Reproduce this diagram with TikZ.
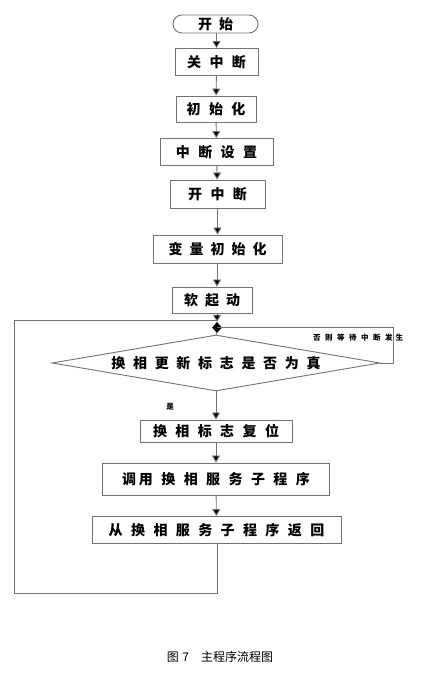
\documentclass[tikz,border=0pt]{standalone}
\usepackage{fontspec}
\newfontfamily\cjk{Noto Sans CJK SC}
\usetikzlibrary{arrows.meta,shapes.geometric}
\begin{document}
\begin{tikzpicture}[x=1pt,y=1pt,
  line/.style={draw=black!55,line width=0.9pt},
  arr/.style={line,-{Triangle[width=8pt,length=7pt,fill=black]}},
  box/.style={draw=black!55,line width=0.9pt,fill=white,inner sep=0pt,font=\cjk\fontsize{14}{14}\selectfont\bfseries},
  term/.style={box,rounded corners=9pt},
  lbl/.style={font=\cjk\fontsize{7.5}{8}\selectfont\bfseries,inner sep=0pt}
]
\useasboundingbox (0,0) rectangle (441,678);
\fill[white] (0,0) rectangle (441,678);
\node[term,minimum width=85pt,minimum height=18pt] (s) at (215.5,654) {开\hspace{0.5em}始};
\node[box,minimum width=83pt,minimum height=27pt] (b1) at (216.5,616) {关\hspace{0.6em}中\hspace{0.6em}断};
\node[box,minimum width=80pt,minimum height=26pt] (b2) at (216,569) {初\hspace{0.6em}始\hspace{0.6em}化};
\node[box,minimum width=113pt,minimum height=27pt] (b3) at (216.5,526) {中\hspace{0.6em}断\hspace{0.6em}设\hspace{0.6em}置};
\node[box,minimum width=95pt,minimum height=28pt] (b4) at (217.5,484) {开\hspace{0.6em}中\hspace{0.6em}断};
\node[box,minimum width=129pt,minimum height=28pt] (b5) at (217.5,429) {变\hspace{0.5em}量\hspace{0.5em}初\hspace{0.5em}始\hspace{0.5em}化};
\node[box,minimum width=80pt,minimum height=26pt] (b6) at (212,378) {软\hspace{0.5em}起\hspace{0.5em}动};
\node[diamond,fill=black,inner sep=0pt,minimum width=10pt,minimum height=11pt] (j) at (217,350.5) {};
\node[diamond,draw=black!55,line width=0.9pt,inner sep=0pt,minimum width=328pt,minimum height=56pt] (d) at (216,315) {};
\node[font=\cjk\fontsize{14}{14}\selectfont\bfseries,inner sep=0pt] (dt) at (d.center) {换\hspace{0.55em}相\hspace{0.55em}更\hspace{0.55em}新\hspace{0.55em}标\hspace{0.55em}志\hspace{0.55em}是\hspace{0.55em}否\hspace{0.55em}为\hspace{0.55em}真};
\node[box,minimum width=152pt,minimum height=22pt] (c1) at (216,247) {换\hspace{0.6em}相\hspace{0.6em}标\hspace{0.6em}志\hspace{0.6em}复\hspace{0.6em}位};
\node[box,minimum width=227pt,minimum height=32pt] (c2) at (216,199) {调\hspace{0.2em}用\hspace{0.6em}换\hspace{0.6em}相\hspace{0.6em}服\hspace{0.6em}务\hspace{0.6em}子\hspace{0.6em}程\hspace{0.6em}序};
\node[box,minimum width=249pt,minimum height=27pt] (c3) at (216.5,148) {从\hspace{0.6em}换\hspace{0.6em}相\hspace{0.6em}服\hspace{0.6em}务\hspace{0.6em}子\hspace{0.6em}程\hspace{0.6em}序\hspace{0.6em}返\hspace{0.6em}回};
\node[lbl] (no) at (358,340) {否\hspace{0.6em}则\hspace{0.6em}等\hspace{0.6em}待\hspace{0.6em}中\hspace{0.6em}断\hspace{0.6em}发\hspace{0.4em}生};
\node[lbl] (yes) at (170,271) {是};
\node[font=\cjk\fontsize{12}{12}\selectfont,inner sep=0pt] (cap) at (220,21) {图\hspace{0.3em}7\hspace{1em}主程序流程图};
\coordinate (bl) at (14,85);
\coordinate (br) at (217,85);
\coordinate (tl) at (14,358);
\coordinate (r1) at (393,315);
\coordinate (r2) at (393,351);
\draw[arr] (s.south -| b1) -- (b1.north);
\draw[arr] (b1) -- (b2);
\draw[arr] (b2) -- (b3);
\draw[arr] (b3) -- (b4);
\draw[arr] (b4) -- (b5);
\draw[arr] (b5.south -| j) -- (b6.north -| j);
\draw[arr] (b6.south -| j) -- (j.north);
\draw[line] (j.south) -- (d.north);
\draw[arr] (d.south) -- (c1.north);
\draw[arr] (c1) -- (c2);
\draw[arr] (c2) -- (c3);
\draw[line] (c3.south -| br) -- (br) -- (bl) -- (tl) -- (tl -| j);
\draw[line] (d.east) -- (r1) -- (r2) -- (r2 -| j);
\end{tikzpicture}
\end{document}
